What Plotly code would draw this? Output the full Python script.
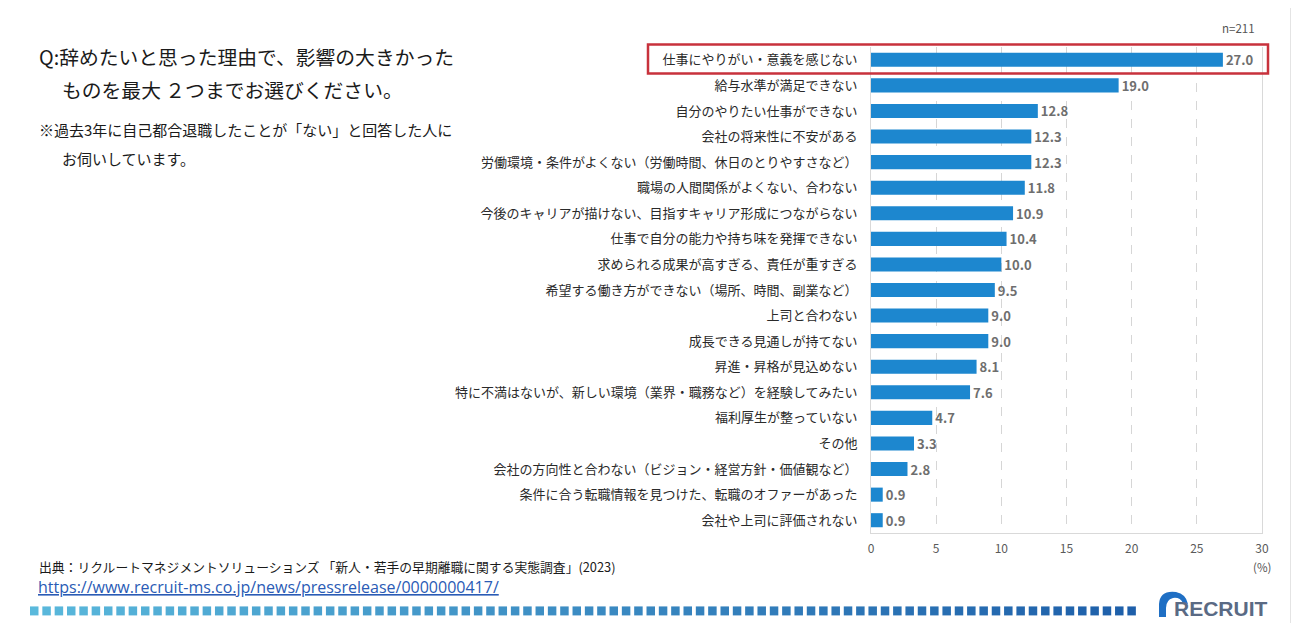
import plotly.graph_objects as go

categories = [
    "仕事にやりがい・意義を感じない",
    "給与水準が満足できない",
    "自分のやりたい仕事ができない",
    "会社の将来性に不安がある",
    "労働環境・条件がよくない（労働時間、休日のとりやすさなど）",
    "職場の人間関係がよくない、合わない",
    "今後のキャリアが描けない、目指すキャリア形成につながらない",
    "仕事で自分の能力や持ち味を発揮できない",
    "求められる成果が高すぎる、責任が重すぎる",
    "希望する働き方ができない（場所、時間、副業など）",
    "上司と合わない",
    "成長できる見通しが持てない",
    "昇進・昇格が見込めない",
    "特に不満はないが、新しい環境（業界・職務など）を経験してみたい",
    "福利厚生が整っていない",
    "その他",
    "会社の方向性と合わない（ビジョン・経営方針・価値観など）",
    "条件に合う転職情報を見つけた、転職のオファーがあった",
    "会社や上司に評価されない",
]
values = [27.0, 19.0, 12.8, 12.3, 12.3, 11.8, 10.9, 10.4, 10.0, 9.5, 9.0, 9.0, 8.1, 7.6, 4.7, 3.3, 2.8, 0.9, 0.9]
tick_vals = [0, 5, 10, 15, 20, 25, 30]

JP = "Noto Sans CJK JP"
OFF = 8  # page body margin
W, H = 1299 - OFF, 623 - OFF
# plot area in screen pixels
L, R, T, B = 871, 1262, 46.5, 533


def px(x):
    return (x - L) / (R - L)


def py(y):
    return (B - y) / (B - T)


fig = go.Figure()
fig.add_trace(go.Bar(
    x=values, y=categories, orientation="h",
    marker=dict(color="#1d87cf", line=dict(width=0)),
    width=0.55,
    texttemplate="<b>%{x:.1f}</b>", textposition="outside",
    constraintext="none",
    textfont=dict(family=JP, size=13, color="#6e6e6e"),
    cliponaxis=False,
))

annotations = []


def note(x, y, text, size, color="#1a1a1a", family=JP, xanchor="left"):
    annotations.append(dict(x=px(x), y=py(y), xref="paper", yref="paper", text=text,
                            showarrow=False, xanchor=xanchor, yanchor="middle",
                            font=dict(family=family, size=size, color=color)))


note(37, 56, "Q:辞めたいと思った理由で、影響の大きかった", 19.8)
note(60, 89, "ものを最大 ２つまでお選びください。", 19.8)
note(37, 129, "※過去3年に自己都合退職したことが「ない」と回答した人に", 15)
note(60, 158, "お伺いしています。", 15)
note(37, 567, "出典：リクルートマネジメントソリューションズ 「新人・若手の早期離職に関する実態調査」(2023)", 12.8)
note(36, 587, "<u>https://www.recruit-ms.co.jp/news/pressrelease/0000000417/</u>", 16,
     color="#2a5bb5", family="Open Sans")
note(1257, 27, "n=211", 11.5, color="#555555", xanchor="right")
note(1262, 567, "(%)", 11.5, color="#555555", xanchor="center")
note(1172, 609, "<b>RECRUIT</b>", 21, color="#5a6a84", family="Liberation Sans")

shapes = []
# highlight box
shapes.append(dict(type="rect", xref="paper", yref="paper",
                   x0=px(648), x1=px(1268), y0=py(73), y1=py(44),
                   line=dict(color="#c8323c", width=2.5)))
# right side strip
shapes.append(dict(type="rect", xref="paper", yref="paper", x0=px(1290), x1=px(1293), y0=py(623), y1=py(0),
                   line=dict(width=0), fillcolor="#e4e4e4", layer="below"))

# dotted band of squares
n_sq = 90
c0 = (90, 185, 220)
c1 = (30, 95, 170)
for i in range(n_sq):
    t = i / (n_sq - 1)
    c = tuple(int(c0[k] + (c1[k] - c0[k]) * t) for k in range(3))
    x0 = 30 + i * 12.33
    shapes.append(dict(type="rect", xref="paper", yref="paper",
                       x0=px(x0), x1=px(x0 + 8.5), y0=py(615.5), y1=py(606.5),
                       line=dict(width=0), fillcolor="rgb(%d,%d,%d)" % c))


# logo arc
def P(x, y):
    return "%f,%f" % (px(x), py(y))


path = ("M " + P(1159, 617) + " L " + P(1159, 604) + " Q " + P(1160, 590) + " " + P(1176, 592)
        + " Q " + P(1186, 594) + " " + P(1188, 604) + " L " + P(1183, 603) + " Q " + P(1180, 597)
        + " " + P(1173, 598) + " Q " + P(1166, 600) + " " + P(1166, 608) + " L " + P(1166, 617) + " Z")
shapes.append(dict(type="path", xref="paper", yref="paper", path=path,
                   line=dict(width=0), fillcolor="#1f6fc4"))

fig.update_layout(
    width=W, height=H, autosize=False,
    margin=dict(l=L - OFF, r=1299 - R, t=T - OFF, b=623 - B, pad=0),
    paper_bgcolor="white", plot_bgcolor="white",
    showlegend=False, bargap=0.45,
    annotations=annotations, shapes=shapes,
    xaxis=dict(range=[0, 30], tickvals=tick_vals, showgrid=True, gridcolor="#d6d6d6",
               griddash="dash", gridwidth=1, zeroline=False,
               showline=True, linecolor="#d9d9d9", linewidth=1,
               ticks="", ticklabelstandoff=5,
               tickfont=dict(family=JP, size=12, color="#5a5a5a")),
    yaxis=dict(autorange="reversed", showgrid=False, zeroline=False,
               showline=True, linecolor="#d9d9d9", linewidth=1, mirror=True,
               ticks="", ticklabelstandoff=10,
               tickfont=dict(family=JP, size=13, color="#2a2a2a")),
)

fig.write_html("out.html")
